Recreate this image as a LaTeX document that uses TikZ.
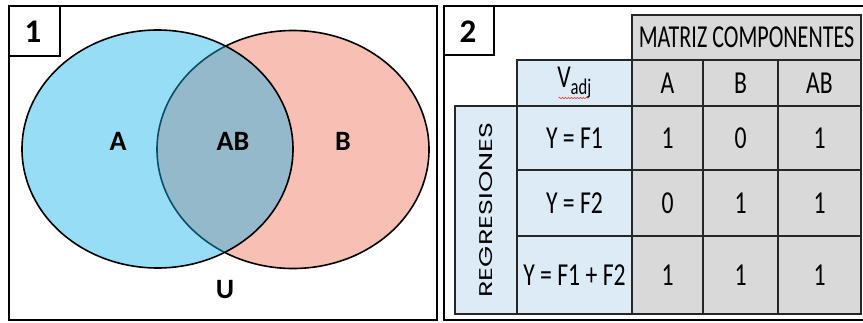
\documentclass[tikz,border=0pt]{standalone}
\usepackage{fontspec}
\setmainfont{Carlito}
\newfontfamily\regfont{Poppins}
\usetikzlibrary{decorations.pathmorphing,calc}
\definecolor{colA}{RGB}{19,178,234}
\definecolor{colB}{RGB}{248,192,180}
\definecolor{cellgrey}{RGB}{217,217,217}
\definecolor{cellblue}{RGB}{221,235,247}
\newcommand\tx[1]{\scalebox{0.74}[1]{#1}}
\tikzset{
  panel/.style={draw=black, line width=1.8pt},
  tagbox/.style={draw=black, line width=1.2pt, fill=white},
  tagtext/.style={font=\fontsize{33}{33}\bfseries\selectfont, inner sep=0pt},
  vennlabel/.style={font=\fontsize{28}{28}\bfseries\selectfont, inner sep=0pt},
  cell/.style={draw=black!85, line width=1.1pt, inner sep=0pt, anchor=center,
    font=\fontsize{32}{32}\selectfont},
  gcell/.style={cell, fill=cellgrey},
  bcell/.style={cell, fill=cellblue},
}
\begin{document}
\begin{tikzpicture}[x=1pt,y=-1pt]
\useasboundingbox (0,0) rectangle (863,322);
% ---------- panel 1 ----------
\draw[panel] (9,6) rectangle (437,320);
\fill[colB] (293,149.5) ellipse [x radius=136, y radius=119];
\draw[black, line width=1.6pt] (293,149.5) ellipse [x radius=136, y radius=119];
\fill[colA, fill opacity=0.44] (157.5,149) ellipse [x radius=135.5, y radius=119];
\draw[black, line width=1.6pt] (157.5,149) ellipse [x radius=135.5, y radius=119];
\draw[tagbox] (9,6) rectangle (60,56);
\node[tagtext] (t1) at (33,32) {1};
\node[vennlabel] (lA) at (118,141) {A};
\node[vennlabel] (lAB) at (233,141) {AB};
\node[vennlabel] (lB) at (343,141) {B};
\node[vennlabel] (lU) at (225,290) {U};
% ---------- panel 2 ----------
\draw[panel] (444,6) -- (866,6) (444,6) -- (444,320) -- (866,320);
\draw[tagbox] (444,6) rectangle (494,55);
\node[tagtext] (t2) at (468,32) {2};
% header
\node[gcell, minimum width=229pt, minimum height=45pt] (mat) at (746.5,37.5) {\scalebox{0.69}[1]{MATRIZ COMPONENTES}};
\node[bcell, minimum width=115pt, minimum height=46pt] (vadj) at (574.5,83) {\tx{V\textsubscript{adj}}};
\draw[red!80, line width=0.6pt, decorate, decoration={snake, amplitude=0.7pt, segment length=3pt}] ($(vadj.center)+(-16,15)$) coordinate (sq1) -- ++(30,0) coordinate (sq2);
\node[gcell, minimum width=71pt, minimum height=46pt] (hA) at (667.5,83) {\tx{A}};
\node[gcell, minimum width=75pt, minimum height=46pt] (hB) at (740.5,83) {\tx{B}};
\node[gcell, minimum width=83pt, minimum height=46pt] (hAB) at (819.5,83) {\tx{AB}};
% regressions label
\node[bcell, minimum width=62pt, minimum height=208pt] (reg) at (486,210) {};
\node[rotate=90, inner sep=0pt] (regt) at (reg.center) {\resizebox{175pt}{13pt}{\regfont REGRESIONES}};
% rows
\node[bcell, minimum width=115pt, minimum height=64pt] (r1) at (574.5,138) {\tx{Y = F1}};
\node[bcell, minimum width=115pt, minimum height=66pt] (r2) at (574.5,203) {\tx{Y = F2}};
\node[bcell, minimum width=115pt, minimum height=78pt] (r3) at (574.5,275) {\tx{Y = F1 + F2}};
% values
\node[gcell, minimum width=71pt, minimum height=64pt] (a1) at (667.5,138) {\tx{1}};
\node[gcell, minimum width=75pt, minimum height=64pt] (b1) at (740.5,138) {\tx{0}};
\node[gcell, minimum width=83pt, minimum height=64pt] (ab1) at (819.5,138) {\tx{1}};
\node[gcell, minimum width=71pt, minimum height=66pt] (a2) at (667.5,203) {\tx{0}};
\node[gcell, minimum width=75pt, minimum height=66pt] (b2) at (740.5,203) {\tx{1}};
\node[gcell, minimum width=83pt, minimum height=66pt] (ab2) at (819.5,203) {\tx{1}};
\node[gcell, minimum width=71pt, minimum height=78pt] (a3) at (667.5,275) {\tx{1}};
\node[gcell, minimum width=75pt, minimum height=78pt] (b3) at (740.5,275) {\tx{1}};
\node[gcell, minimum width=83pt, minimum height=78pt] (ab3) at (819.5,275) {\tx{1}};
\end{tikzpicture}
\end{document}
